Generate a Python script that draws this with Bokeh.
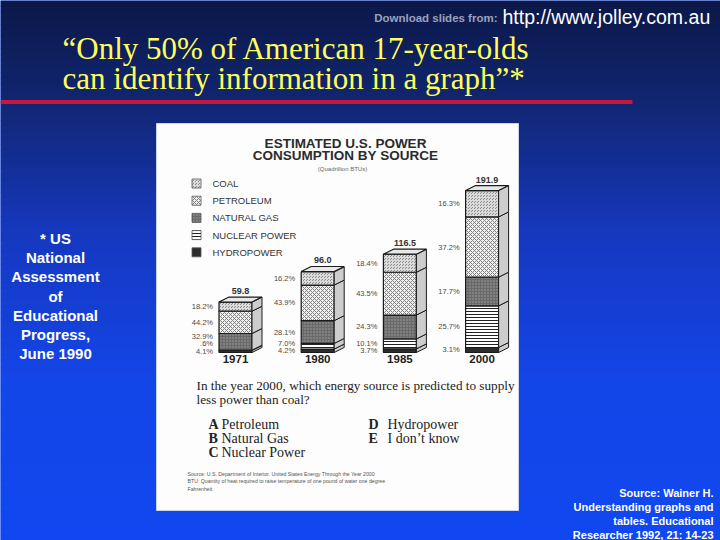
import numpy as np
from bokeh.plotting import figure
from bokeh.models import Range1d
from bokeh.embed import file_html
from bokeh.resources import INLINE
from bokeh.core.properties import value

# ---------------- data ----------------
years = ["1971", "1980", "1985", "2000"]
totals = [59.8, 96.0, 116.5, 191.9]          # quadrillion BTUs
legend_names = ["COAL", "PETROLEUM", "NATURAL GAS", "NUCLEAR POWER", "HYDROPOWER"]
# shares (%) per year
coal_pct = [18.2, 16.2, 18.4, 16.3]
petroleum_pct = [44.2, 43.9, 43.5, 37.2]
gas_pct = [32.9, 28.1, 24.3, 17.7]
nuclear_pct = [0.6, 7.0, 10.1, 25.7]
hydro_pct = [4.1, 4.2, 3.7, 3.1]

chart_title = ["ESTIMATED U.S. POWER", "CONSUMPTION BY SOURCE"]
chart_unit = "(Quadrillion BTUs)"
slide_title = ["\u201cOnly 50% of American 17-year-olds",
               "can identify information in a graph\u201d*"]
side_note = ["* US", "National", "Assessment", "of", "Educational", "Progress,", "June 1990"]
credit = ["Source: Wainer H.", "Understanding graphs and", "tables. Educational",
          "Researcher 1992, 21: 14-23"]
question = ["In the year 2000, which energy source is predicted to supply",
            "less power than coal?"]
answers_left = [("A", "Petroleum"), ("B", "Natural Gas"), ("C", "Nuclear Power")]
answers_right = [("D", "Hydropower"), ("E", "I don\u2019t know")]
source_note = ["Source: U.S. Department of Interior.  United States Energy Through the Year 2000",
               "BTU: Quantity of heat required to raise temperature of one pound of water one degree",
               "Fahrenheit"]

# ---------------- figure (page pixel coordinates) ----------------
W, H = 720, 540
p = figure(width=W, height=H, x_range=Range1d(0, W), y_range=Range1d(H, 0),
           output_backend="svg", toolbar_location=None,
           x_axis_type=None, y_axis_type=None, min_border=0)
p.outline_line_color = None
p.grid.visible = False
p.background_fill_color = "#1249f0"
p.border_fill_color = "#1249f0"

# background gradient
stops_y = [0, 110, 230, 380, 540]
stops_c = [(12, 24, 72), (18, 40, 118), (22, 56, 190), (20, 70, 232), (17, 72, 240)]
n = 90
edges = np.linspace(0, 540, n + 1)
mids = (edges[:-1] + edges[1:]) / 2
cols = []
for m in mids:
    r = np.interp(m, stops_y, [c[0] for c in stops_c])
    g = np.interp(m, stops_y, [c[1] for c in stops_c])
    b = np.interp(m, stops_y, [c[2] for c in stops_c])
    cols.append("#%02x%02x%02x" % (int(r), int(g), int(b)))
p.quad(left=0, right=720, top=edges[:-1], bottom=edges[1:] + 0.5,
       fill_color=cols, line_color=None)

# header
p.text(x=[497], y=[17], text=["Download slides from:"], text_font=value("Liberation Sans"),
       text_font_size="11.5px", text_font_style="bold", text_color="#9aa2bd",
       text_align="right", text_baseline="middle")
p.text(x=[502], y=[16], text=["http://www.jolley.com.au"], text_font=value("Liberation Sans"),
       text_font_size="19.5px", text_color="#ffffff", text_align="left", text_baseline="middle")
p.text(x=[62, 62], y=[48, 78], text=slide_title, text_font=value("Liberation Serif"),
       text_font_size="31px", text_color="#ffff5a", text_align="left", text_baseline="middle")
p.quad(left=[0], right=[632], top=[99.5], bottom=[103.5], fill_color="#c8173c", line_color=None)

# side note and credit
p.text(x=[55] * len(side_note), y=[238 + 19.2 * i for i in range(len(side_note))], text=side_note,
       text_font=value("Liberation Sans"), text_font_size="15px", text_font_style="bold",
       text_color="#ffffff", text_align="center", text_baseline="middle")
p.text(x=[713] * len(credit), y=[492 + 14 * i for i in range(len(credit))], text=credit,
       text_font=value("Liberation Sans"), text_font_size="11px", text_font_style="bold",
       text_color="#ffffff", text_align="right", text_baseline="middle")

# white scanned page
p.quad(left=[156], right=[518], top=[123], bottom=[510], fill_color="#fdfdfd",
       line_color="#c9d3ea", line_width=1)

# chart titles
p.text(x=[345, 345], y=[143, 155], text=chart_title, text_font=value("Liberation Sans"),
       text_font_size="13.5px", text_font_style="bold", text_color="#2b2b2b",
       text_align="center", text_baseline="middle")
p.text(x=[342], y=[168], text=[chart_unit], text_font=value("Liberation Sans"),
       text_font_size="6px", text_color="#666666", text_align="center", text_baseline="middle")

# styles for the five sources (legend order: top -> bottom)
styles = [
    dict(fill_color="#8d8d8d", hatch_pattern="criss_cross", hatch_color="#dcdcdc", hatch_scale=3, hatch_weight=1),
    dict(fill_color="#f0f0f0", hatch_pattern="diagonal_cross", hatch_color="#808080", hatch_scale=4, hatch_weight=1),
    dict(fill_color="#6a6a6a", hatch_pattern="dot", hatch_color="#a0a0a0", hatch_scale=3, hatch_weight=1),
    dict(fill_color="#ffffff", hatch_pattern="horizontal_line", hatch_color="#222222", hatch_scale=3, hatch_weight=1),
    dict(fill_color="#2c2c2c"),
]

# legend
for k, name in enumerate(legend_names):
    yk = 183 + 17.2 * k
    p.rect(x=[196], y=[yk], width=9, height=9, line_color="#555555", line_width=0.8, **styles[k])
    p.text(x=[212], y=[yk], text=[name], text_font=value("Liberation Sans"), text_font_size="9.5px",
           text_color="#333333", text_align="left", text_baseline="middle")

# ---------------- bar chart (own scales) ----------------
PX_PER_BAR = 82.2
FIRST_BAR_PX = 235.0
BASE_PX = 352.0
PX_PER_UNIT = 0.844
xs0 = -FIRST_BAR_PX / PX_PER_BAR
p.extra_x_ranges = {"bars": Range1d(xs0, xs0 + W / PX_PER_BAR)}
p.extra_y_ranges = {"btu": Range1d(-(H - BASE_PX) / PX_PER_UNIT, BASE_PX / PX_PER_UNIT)}
RN = dict(x_range_name="bars", y_range_name="btu")

bw = 33 / PX_PER_BAR          # front width
dx = 10 / PX_PER_BAR          # depth (horizontal)
dy = 5 / PX_PER_UNIT          # depth (vertical)
idx = list(range(len(years)))

# stack order bottom -> top
stack_pcts = [hydro_pct, nuclear_pct, gas_pct, petroleum_pct, coal_pct]
stack_styles = [styles[4], styles[3], styles[2], styles[1], styles[0]]

bottoms = [0.0] * len(years)
seg_bounds = []
for pcts, st in zip(stack_pcts, stack_styles):
    tops = [b + t * pc / 100.0 for b, t, pc in zip(bottoms, totals, pcts)]
    seg_bounds.append((list(bottoms), list(tops)))
    p.vbar(x=idx, width=bw, bottom=bottoms, top=tops, line_color="#1a1a1a", line_width=1.2,
           **st, **RN)
    sx = [[i + bw / 2, i + bw / 2 + dx, i + bw / 2 + dx, i + bw / 2] for i in idx]
    sy = [[b, b + dy, t + dy, t] for b, t in zip(bottoms, tops)]
    p.patches(xs=sx, ys=sy, fill_color="#cdcdcd", line_color="#1a1a1a", line_width=1, **RN)
    bottoms = tops

# top faces
tx = [[i - bw / 2, i - bw / 2 + dx, i + bw / 2 + dx, i + bw / 2] for i in idx]
ty = [[t, t + dy, t + dy, t] for t in totals]
p.patches(xs=tx, ys=ty, fill_color="#e8e8e8", line_color="#1a1a1a", line_width=1.2, **RN)

# percent labels (left of bars), nudged apart when segments are thin
gap = 7.5 / PX_PER_UNIT
lx, ly, lt = [], [], []
for j, i in enumerate(idx):
    prev = None
    for (bs, ts), pcts in zip(seg_bounds, stack_pcts):
        mid = (bs[j] + ts[j]) / 2
        yv = mid if prev is None else max(mid, prev + gap)
        prev = yv
        s = "%.1f%%" % pcts[j]
        if s.startswith("0."):
            s = s[1:]
        lx.append(i - bw / 2 - 6 / PX_PER_BAR)
        ly.append(yv)
        lt.append(s)
p.text(x=lx, y=ly, text=lt, text_font=value("Liberation Sans"), text_font_size="7.5px",
       text_color="#4a4a4a", text_align="right", text_baseline="middle", **RN)

# totals above bars
p.text(x=[i + dx / 2 for i in idx], y=[t + dy + 3 / PX_PER_UNIT for t in totals],
       text=["%.1f" % t for t in totals], text_font=value("Liberation Sans"),
       text_font_size="9px", text_font_style="bold", text_color="#333333",
       text_align="center", text_baseline="bottom", **RN)

# year labels
p.text(x=idx, y=[-2.5 / PX_PER_UNIT] * len(idx), text=years, text_font=value("Liberation Sans"),
       text_font_size="11.5px", text_font_style="bold", text_color="#222222",
       text_align="center", text_baseline="top", **RN)

# question
p.text(x=[196, 196], y=[385, 399], text=question, text_font=value("Liberation Serif"),
       text_font_size="13.2px", text_color="#222222", text_align="left", text_baseline="middle")
for k, (letter, txt) in enumerate(answers_left):
    yk = 424 + 14 * k
    p.text(x=[208], y=[yk], text=[letter], text_font=value("Liberation Serif"), text_font_size="14px",
           text_font_style="bold", text_color="#222222", text_align="left", text_baseline="middle")
    p.text(x=[221], y=[yk], text=[txt], text_font=value("Liberation Serif"), text_font_size="14px",
           text_color="#222222", text_align="left", text_baseline="middle")
for k, (letter, txt) in enumerate(answers_right):
    yk = 424 + 14 * k
    p.text(x=[368], y=[yk], text=[letter], text_font=value("Liberation Serif"), text_font_size="14px",
           text_font_style="bold", text_color="#222222", text_align="left", text_baseline="middle")
    p.text(x=[387], y=[yk], text=[txt], text_font=value("Liberation Serif"), text_font_size="14px",
           text_color="#222222", text_align="left", text_baseline="middle")

p.text(x=[187] * 3, y=[473, 480.5, 488], text=source_note, text_font=value("Liberation Sans"),
       text_font_size="5.2px", text_color="#555555", text_align="left", text_baseline="middle")

open("out.html", "w").write(file_html(p, INLINE))
